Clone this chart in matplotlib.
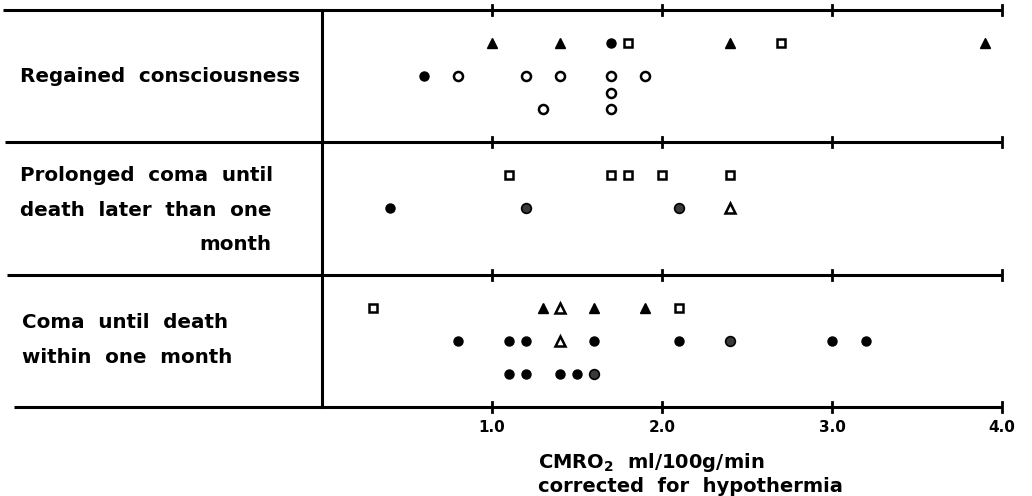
import numpy as np
import matplotlib
matplotlib.use("Agg")
import matplotlib.pyplot as plt

plt.rcParams['font.family'] = ['DejaVu Sans']
plt.rcParams['mathtext.fontset'] = 'custom'
plt.rcParams['mathtext.rm'] = 'DejaVu Sans:bold'
plt.rcParams['mathtext.bf'] = 'DejaVu Sans:bold'

# CMRO2 values (ml/100g/min) and vertical slot of each symbol
# slots: 0 = top line of chart, 8 / 16 = group dividers, 24 = bottom line
filled_tri_x = [1.0, 1.4, 2.4, 3.9, 1.3, 1.6, 1.9]
filled_tri_y = [2, 2, 2, 2, 18, 18, 18]

open_tri_x = [2.4, 1.4, 1.4]
open_tri_y = [12, 18, 20]

filled_circ_x = [1.7, 0.6, 0.4, 0.8, 1.1, 1.2, 1.6, 2.1, 3.0, 3.2, 1.1, 1.2, 1.4, 1.5]
filled_circ_y = [2, 4, 12, 20, 20, 20, 20, 20, 20, 20, 22, 22, 22, 22]

shaded_circ_x = [1.2, 2.1, 2.4, 1.6]
shaded_circ_y = [12, 12, 20, 22]

open_circ_x = [0.8, 1.2, 1.4, 1.7, 1.9, 1.7, 1.3, 1.7]
open_circ_y = [4, 4, 4, 4, 4, 5, 6, 6]

open_sq_x = [1.8, 2.7, 1.1, 1.7, 1.8, 2.0, 2.4, 0.3, 2.1]
open_sq_y = [2, 2, 10, 10, 10, 10, 10, 18, 18]

group_lines = [0, 8, 16, 24]
line_start = [-1.876, -1.865, -1.85, -1.81]
tick_vals = [1.0, 2.0, 3.0, 4.0]
tick_labels = ['1.0', '2.0', '3.0', '4.0']

fig = plt.figure(figsize=(10.32, 4.96), dpi=100)
ax = fig.add_axes([0, 89 / 496, 1, 397 / 496])
ax.set_xlim(-322 / 170, 710 / 170)
ax.set_ylim(24, 0)
for s in ax.spines.values():
    s.set_visible(False)
ax.set_yticks([])
ax.set_xticks(tick_vals)
ax.set_xticklabels(tick_labels, fontsize=11, fontweight='bold')
ax.tick_params(axis='x', length=0, pad=9)

# frame lines
for yl, x0 in zip(group_lines, line_start):
    ax.plot([x0, 4.0], [yl, yl], color='black', lw=2.2, clip_on=False,
            solid_capstyle='butt')
    for t in tick_vals:
        ax.plot([t, t], [yl - 0.3, yl + 0.3], color='black', lw=2.0, clip_on=False)
ax.plot([0, 0], [0, 24], color='black', lw=2.2, clip_on=False)

ms = 6.5
ax.plot(filled_tri_x, filled_tri_y, '^', ms=ms + 0.5, color='black', ls='none')
ax.plot(open_tri_x, open_tri_y, '^', ms=ms, mfc='white', mec='black', mew=1.8, ls='none')
ax.plot(filled_circ_x, filled_circ_y, 'o', ms=ms, color='black', ls='none')
ax.plot(shaded_circ_x, shaded_circ_y, 'o', ms=ms + 0.5, mfc='#3a3a3a', mec='black', mew=1.2, ls='none')
ax.plot(open_circ_x, open_circ_y, 'o', ms=ms, mfc='white', mec='black', mew=1.8, ls='none')
ax.plot(open_sq_x, open_sq_y, 's', ms=ms - 0.8, mfc='white', mec='black', mew=1.8, ls='none')

# row labels
lab = dict(fontsize=14.3, fontweight='bold', va='center')
ax.text(-1.776, 4, 'Regained  consciousness', ha='left', **lab)
ax.text(-1.776, 10, 'Prolonged  coma  until', ha='left', **lab)
ax.text(-1.776, 12.1, 'death  later  than  one', ha='left', **lab)
ax.text(-0.30, 14.2, 'month', ha='right', **lab)
ax.text(-1.765, 18.9, 'Coma  until  death', ha='left', **lab)
ax.text(-1.765, 21.0, 'within  one  month', ha='left', **lab)

# x-axis caption
fig.text(538 / 1032, 1 - 462 / 496, r'CMRO$_{\mathbf{2}}$  ml/100g/min', fontsize=14,
         fontweight='bold', ha='left', va='center')
fig.text(538 / 1032, 1 - 487 / 496, 'corrected  for  hypothermia', fontsize=14,
         fontweight='bold', ha='left', va='center')

fig.savefig('out.png', dpi=100)
